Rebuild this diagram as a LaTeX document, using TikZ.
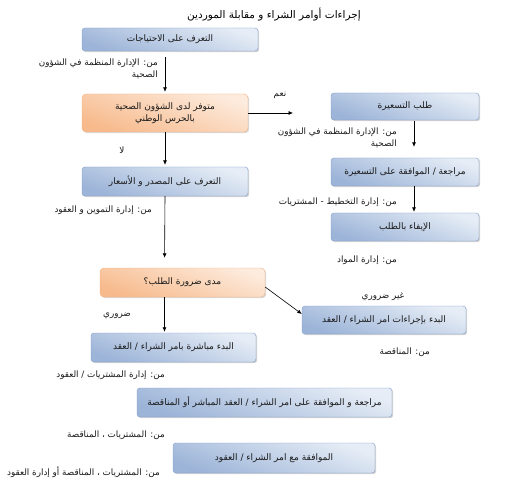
\documentclass[tikz,border=0pt]{standalone}
\usepackage{fontspec}
\setmainfont{DejaVu Sans}
\newfontfamily\arabicfont[Script=Arabic]{DejaVu Sans}
\TeXXeTstate=1
\usepackage{tikz}
\usetikzlibrary{arrows.meta,shadows}
\definecolor{BoxBlueDark}{HTML}{9CB4D8}
\definecolor{BoxBlueLight}{HTML}{E6EDF6}
\definecolor{BoxBlueEdge}{HTML}{7E9BC6}
\definecolor{BoxOrangeDark}{HTML}{F7BA8C}
\definecolor{BoxOrangeLight}{HTML}{FDEBDD}
\definecolor{BoxOrangeEdge}{HTML}{F2B07E}
\definecolor{TextDark}{HTML}{1A1A1A}
\tikzset{
  bluebox/.style={draw=BoxBlueEdge,rounded corners=3pt,
    top color=BoxBlueLight,bottom color=BoxBlueDark,shading angle=-20,
    drop shadow={shadow xshift=1.2pt,shadow yshift=-1.2pt,opacity=0.35},
    font=\arabicfont\fontsize{9}{11.5}\selectfont\color{TextDark},
    align=center,inner sep=2pt},
  orangebox/.style={draw=BoxOrangeEdge,rounded corners=4pt,
    top color=BoxOrangeLight,bottom color=BoxOrangeDark,shading angle=-20,
    drop shadow={shadow xshift=1.2pt,shadow yshift=-1.2pt,opacity=0.30},
    font=\arabicfont\fontsize{9}{11.5}\selectfont\color{TextDark},
    align=center,inner sep=2pt},
  fromlbl/.style={font=\arabicfont\fontsize{8.8}{12}\selectfont\color{TextDark},
    align=right,inner sep=0pt},
  titletext/.style={font=\arabicfont\fontsize{10.5}{12}\selectfont\color{black},inner sep=0pt},
  flowarrow/.style={-{Latex[length=4.5pt,width=4pt]},line width=0.6pt,draw=black},
}
\begin{document}
\begin{tikzpicture}[x=1pt,y=-1pt]
  \useasboundingbox (0,0) rectangle (527,494);
  \node[titletext] (title) at (274,15) {\beginR إجراءات أوامر الشراء و مقابلة الموردين\endR};
  \node[bluebox,minimum width=176pt,minimum height=23pt] (need) at (170,39.5) {\beginR التعرف على الاحتياجات\endR};
  \node[orangebox,minimum width=166pt,minimum height=38pt] (avail) at (165,113) {\beginR متوفر لدى الشؤون الصحية\endR\\\beginR بالحرس الوطني\endR};
  \node[bluebox,minimum width=148pt,minimum height=27pt] (quote) at (405,106.5) {\beginR طلب التسعيرة\endR};
  \node[bluebox,minimum width=148pt,minimum height=28pt] (revquote) at (405,172) {\beginR مراجعة / الموافقة على التسعيرة\endR};
  \node[bluebox,minimum width=148pt,minimum height=28pt] (fulfil) at (405,227) {\beginR الإيفاء بالطلب\endR};
  \node[bluebox,minimum width=166pt,minimum height=29pt] (source) at (165,181.5) {\beginR التعرف على المصدر و الأسعار\endR};
  \node[orangebox,minimum width=165pt,minimum height=29pt] (check) at (182.5,282.5) {\beginR مدى ضرورة الطلب؟\endR};
  \node[bluebox,minimum width=164pt,minimum height=28pt] (tender) at (384,320) {\beginR البدء بإجراءات امر الشراء / العقد\endR};
  \node[bluebox,minimum width=165pt,minimum height=29pt] (direct) at (173.5,347.5) {\beginR البدء مباشرة بامر الشراء / العقد\endR};
  \node[bluebox,minimum width=255pt,minimum height=29pt] (revorder) at (264.5,402.5) {\beginR مراجعة و الموافقة على امر الشراء / العقد المباشر أو المناقصة\endR};
  \node[bluebox,minimum width=202pt,minimum height=30pt] (approve) at (274,458) {\beginR الموافقة مع امر الشراء / العقود\endR};

  \node[fromlbl,anchor=north east] (lblneed) at (158,59) {\beginR من: الإدارة المنظمة في الشؤون\endR\\\beginR الصحية\endR};
  \node[fromlbl] (yes) at (280,95) {\beginR نعم\endR};
  \node[fromlbl,anchor=north east] (lblquote) at (397,128) {\beginR من: الإدارة المنظمة في الشؤون\endR\\\beginR الصحية\endR};
  \node[fromlbl,anchor=east] (lblrev) at (397,202) {\beginR من: إدارة التخطيط - المشتريات\endR};
  \node[fromlbl,anchor=east] (lblfulfil) at (397,260) {\beginR من: إدارة المواد\endR};
  \node[fromlbl] (no) at (122,150) {\beginR لا\endR};
  \node[fromlbl,anchor=east] (lblsource) at (152,210) {\beginR من: إدارة التموين و العقود\endR};
  \node[fromlbl] (notneeded) at (383,297) {\beginR غير ضروري\endR};
  \node[fromlbl] (needed) at (117,316) {\beginR ضروري\endR};
  \node[fromlbl,anchor=east] (lbltender) at (430,352) {\beginR من: المناقصة\endR};
  \node[fromlbl,anchor=east] (lbldirect) at (165,375) {\beginR من: إدارة المشتريات / العقود\endR};
  \node[fromlbl,anchor=east] (lblrevorder) at (165,435) {\beginR من: المشتريات ، المناقصة\endR};
  \node[fromlbl,anchor=east] (lblapprove) at (160,472) {\beginR من: المشتريات ، المناقصة أو إدارة العقود\endR};

  \coordinate (yesend) at (293,113);
  \draw[flowarrow,shorten <=6pt,shorten >=2pt] (avail.north |- need.south) -- (avail.north);
  \draw[flowarrow] (avail.east) -- (yesend);
  \draw[flowarrow,shorten <=1pt,shorten >=11pt] ([xshift=9pt]quote.south) -- ([xshift=9pt]revquote.north);
  \draw[flowarrow,shorten >=1pt] ([xshift=9pt]revquote.south) -- ([xshift=9pt]fulfil.north);
  \draw[flowarrow,shorten >=2pt] (avail.south) -- (source.north);
  \draw[flowarrow,shorten >=10pt] (source.south) -- ([xshift=-18pt]check.north);
  \draw[flowarrow,shorten >=1pt] ([xshift=-18pt]check.south) -- ([xshift=-9pt]direct.north);
  \draw[flowarrow] ([yshift=-4.5pt]check.east) -- ([yshift=6pt]tender.west);
\end{tikzpicture}
\end{document}
